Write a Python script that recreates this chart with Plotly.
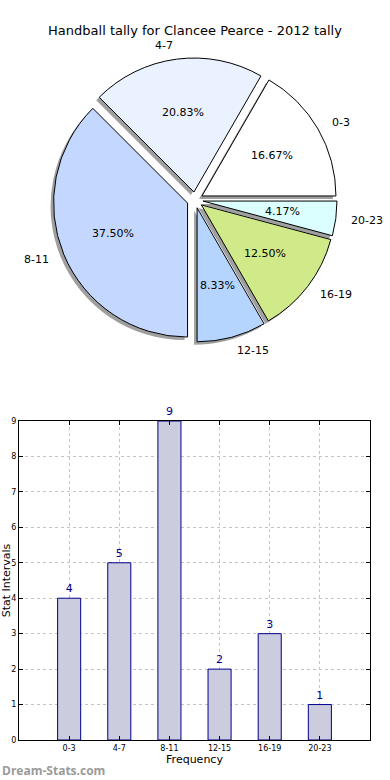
import math
import plotly.graph_objects as go

categories = ["0-3", "4-7", "8-11", "12-15", "16-19", "20-23"]
tally = [4, 5, 9, 2, 3, 1]
slice_colors = ["#ffffff", "#eaf1ff", "#c4d8ff", "#b5d5ff", "#d0ea8a", "#dbffff"]
y_ticks = [0, 1, 2, 3, 4, 5, 6, 7, 8, 9]

W, H = 390, 780
FONT = "DejaVu Sans"

# pie geometry (pixels)
cx, cy = 195, 200
R = 134
PULL = 0.06
half = R * (1 + PULL)
pull = [PULL] * len(categories)
ROT = 30  # first slice starts at 3 o'clock, counter-clockwise


def dom(dx=0, dy=0):
    return dict(
        x=[(cx - half + dx) / W, (cx + half + dx) / W],
        y=[1 - (cy + half + dy) / H, 1 - (cy - half + dy) / H],
    )


fig = go.Figure()

# shadow
fig.add_trace(go.Pie(
    labels=categories, values=tally, sort=False, direction="counterclockwise",
    rotation=ROT, pull=pull, domain=dom(-3, 3),
    marker=dict(colors=["rgba(80,80,80,0.55)"] * 6, line=dict(width=0)),
    textinfo="none", hoverinfo="skip", showlegend=False,
))
# main pie
fig.add_trace(go.Pie(
    labels=categories, values=tally, sort=False, direction="counterclockwise",
    rotation=ROT, pull=pull, domain=dom(),
    marker=dict(colors=slice_colors, line=dict(color="#000000", width=1)),
    textinfo="none", hovertemplate="%{label}: %{value} (%{percent:.2%})<extra></extra>",
    showlegend=False,
))

# slice labels (category outside, percentage inside), placed like matplotlib
annotations = []
total = sum(tally)
acc = 0
for cat, v in zip(categories, tally):
    mid = 2 * math.pi * (acc + v / 2) / total
    acc += v
    c, s = math.cos(mid), math.sin(mid)
    d_lab = (1.1 + PULL) * R
    d_pct = (0.6 + PULL) * R
    annotations.append(dict(
        text=cat, x=(cx + d_lab * c) / W, y=1 - (cy - d_lab * s) / H,
        xref="paper", yref="paper", xanchor="left" if c > 0 else "right",
        yanchor="middle", showarrow=False,
        font=dict(family=FONT, size=11, color="#000000"),
    ))
    annotations.append(dict(
        text=f"{100 * v / total:.2f}%", x=(cx + d_pct * c) / W,
        y=1 - (cy - d_pct * s) / H,
        xref="paper", yref="paper", xanchor="center", yanchor="middle",
        showarrow=False, font=dict(family=FONT, size=11, color="#000000"),
    ))

# bar chart
fig.add_trace(go.Bar(
    x=categories, y=tally, width=0.46, xaxis="x", yaxis="y",
    marker=dict(color="#ccccdf", line=dict(color="#00008b", width=1)),
    text=tally, textposition="outside", cliponaxis=False,
    textfont=dict(family=FONT, size=11, color="#00008b"),
    showlegend=False,
))

axis_common = dict(
    showline=True, linecolor="#000000", linewidth=1, mirror="ticks",
    ticks="inside", ticklen=4, tickcolor="#000000",
    showgrid=True, gridcolor="#c4c4c4", griddash="dot", gridwidth=1,
    zeroline=False, automargin=False,
    tickfont=dict(family=FONT, size=8, color="#000000"),
)

annotations.append(dict(
    text="<b>Dream-Stats.com</b>", x=0, y=1 - 770 / H,
    xref="paper", yref="paper", xanchor="left", yanchor="middle",
    showarrow=False, font=dict(family="Open Sans", size=12, color="#9a9a9a"),
))

fig.update_layout(
    width=W, height=H,
    margin=dict(l=0, r=0, t=0, b=0, autoexpand=False),
    showlegend=False,
    paper_bgcolor="#ffffff", plot_bgcolor="#ffffff",
    font=dict(family=FONT, color="#000000"),
    title=dict(text="Handball tally for Clancee Pearce - 2012 tally",
               x=0.5, xanchor="center", y=1 - 30 / H, yanchor="middle",
               font=dict(family=FONT, size=13, color="#000000")),
    xaxis=dict(domain=[19 / W, 370 / W], range=[-1, 6], type="category",
               anchor="y",
               title=dict(text="Frequency", standoff=2,
                          font=dict(family=FONT, size=11)),
               **axis_common),
    yaxis=dict(domain=[1 - 740 / H, 1 - 421 / H], range=[0, 9],
               tickvals=y_ticks, anchor="x",
               title=dict(text="Stat Intervals", standoff=0,
                          font=dict(family=FONT, size=11)),
               **axis_common),
    annotations=annotations,
)

post = (
    "var s=document.createElement('style');"
    "s.textContent='html,body{margin:0;padding:0;width:390px;height:780px;overflow:hidden;}';"
    "document.head.appendChild(s);"
)

fig.write_html(
    "out.html",
    config={"displayModeBar": False},
    post_script=post,
)
